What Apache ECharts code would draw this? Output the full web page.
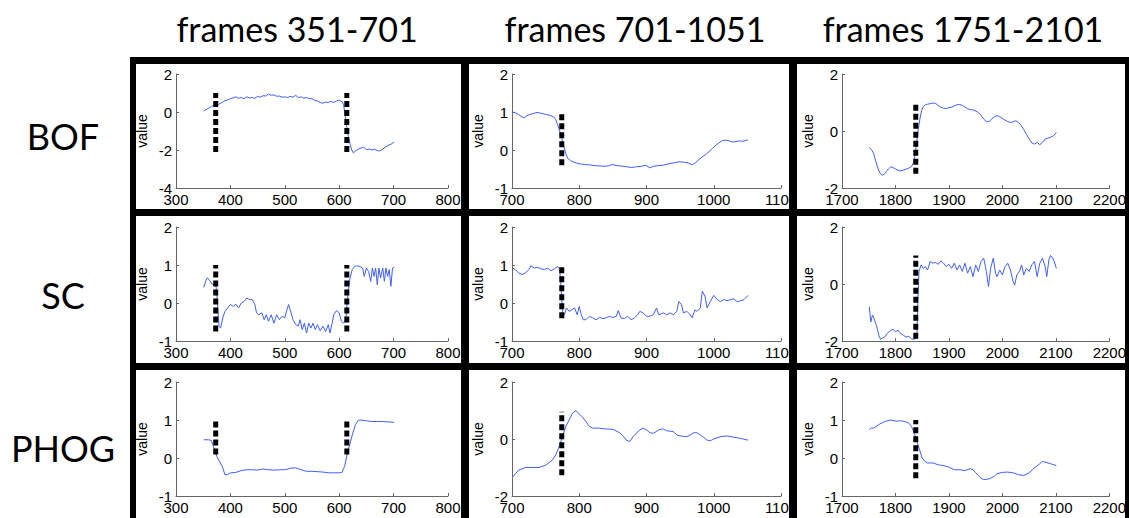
<!DOCTYPE html>
<html>
<head>
<meta charset="utf-8">
<script src="https://cdn.jsdelivr.net/npm/echarts@6/dist/echarts.min.js"></script>
<style>
html, body { margin: 0; padding: 0; background: #fff; }
#chart { width: 1129px; height: 518px; }
</style>
</head>
<body>
<div id="chart"></div>
<script>
// titles / labels
const columnTitles = ['frames 351-701', 'frames 701-1051', 'frames 1751-2101'];
const rowLabels = ['BOF', 'SC', 'PHOG'];

// axis ranges: x per column, y per row/column as [min, max, interval]
const xRanges = [[300, 800], [700, 1100], [1700, 2200]];
const yRanges = [
    [[-4, 2, 2], [-1, 2, 1], [-2, 2, 2]],
    [[-1, 2, 1], [-1, 2, 1], [-2, 2, 2]],
    [[-1, 2, 1], [-2, 2, 2], [-1, 2, 1]]
];

// shot boundaries (dashed lines) per column, with [bottom, top] per row/column
const cutFrames = [[373, 614], [774], [1838]];
const cutSpans = [
    [[-2.1, 1], [-0.4, 1], [-1.5, 1]],
    [[-0.75, 1], [-0.4, 1], [-1.92, 1]],
    [[0.09, 1], [-1.27, 0.96], [-0.53, 1]]
];

// BOF
const bof1 = [[351,0.05],[355,0.12],[360,0.2],[365,0.28],[370,0.36],[375,0.33],[380,0.44],[385,0.5],[390,0.6],[395,0.64],
    [400,0.7],[405,0.74],[410,0.8],[415,0.72],[420,0.76],[425,0.7],[430,0.8],[435,0.74],[440,0.76],[445,0.72],
    [450,0.82],[455,0.78],[460,0.86],[465,0.84],[470,0.95],[475,0.88],[480,0.9],[485,0.83],[490,0.84],[495,0.78],
    [500,0.8],[505,0.76],[510,0.82],[515,0.78],[520,0.88],[525,0.76],[530,0.8],[535,0.72],[540,0.76],[545,0.7],
    [550,0.7],[555,0.62],[560,0.58],[565,0.5],[570,0.46],[575,0.52],[580,0.5],[585,0.56],[590,0.5],[595,0.58],
    [600,0.62],[605,0.55],[608,0.4],[611,-0.2],[614,-0.8],[617,-1.3],[620,-1.7],[623,-2.0],[626,-2.15],[630,-2.05],
    [635,-1.95],[640,-1.9],[645,-1.85],[650,-1.98],[655,-1.95],[660,-2.0],[665,-1.96],[670,-2.03],[675,-2.05],[680,-1.95],
    [685,-1.85],[690,-1.75],[695,-1.7],[701,-1.58]];
const bof2 = [[701,1.0],[705,0.98],[710,0.93],[715,0.87],[718,0.85],[722,0.9],[727,0.94],[732,0.96],[737,0.99],[742,0.97],
    [747,0.95],[752,0.93],[757,0.91],[762,0.87],[765,0.8],[768,0.66],[771,0.5],[774,0.3],[777,0.1],[780,-0.1],
    [783,-0.22],[787,-0.28],[792,-0.32],[797,-0.35],[802,-0.37],[808,-0.38],[815,-0.39],[822,-0.41],[830,-0.42],[838,-0.43],
    [845,-0.41],[849,-0.38],[855,-0.41],[862,-0.42],[870,-0.44],[878,-0.46],[885,-0.44],[892,-0.43],[899,-0.4],[905,-0.47],
    [910,-0.43],[918,-0.41],[925,-0.4],[932,-0.37],[940,-0.34],[948,-0.31],[955,-0.32],[962,-0.34],[968,-0.39],[973,-0.33],
    [978,-0.25],[983,-0.18],[988,-0.12],[993,-0.04],[998,0.04],[1003,0.12],[1008,0.19],[1013,0.25],[1018,0.26],[1023,0.24],
    [1028,0.21],[1033,0.22],[1038,0.24],[1043,0.23],[1048,0.25],[1051,0.27]];
const bof3 = [[1751,-0.58],[1755,-0.65],[1759,-0.78],[1763,-1.05],[1767,-1.3],[1771,-1.48],[1775,-1.55],[1779,-1.52],[1783,-1.42],[1787,-1.33],
    [1791,-1.26],[1795,-1.28],[1800,-1.33],[1805,-1.38],[1810,-1.4],[1815,-1.37],[1820,-1.34],[1825,-1.3],[1830,-1.25],[1834,-1.1],
    [1837,-0.8],[1840,-0.35],[1843,0.1],[1846,0.45],[1849,0.72],[1852,0.86],[1856,0.92],[1860,0.94],[1865,0.96],[1870,0.98],
    [1875,0.97],[1880,0.9],[1885,0.83],[1890,0.8],[1895,0.79],[1900,0.82],[1905,0.84],[1910,0.88],[1915,0.92],[1920,0.93],
    [1925,0.9],[1930,0.84],[1935,0.78],[1940,0.75],[1945,0.74],[1950,0.7],[1955,0.65],[1960,0.55],[1965,0.42],[1970,0.33],
    [1975,0.33],[1980,0.42],[1985,0.5],[1990,0.54],[1995,0.5],[2000,0.44],[2005,0.38],[2010,0.33],[2015,0.3],[2020,0.32],
    [2025,0.36],[2030,0.3],[2035,0.2],[2040,0.05],[2045,-0.12],[2050,-0.28],[2055,-0.42],[2060,-0.46],[2065,-0.4],[2070,-0.48],
    [2075,-0.4],[2080,-0.28],[2085,-0.25],[2090,-0.22],[2095,-0.18],[2101,-0.05]];

// SC
const sc1 = [[351,0.41],[355,0.59],[358,0.66],[362,0.59],[366,0.5],[370,0.48],[373,0.53],[376,0.09],[379,-0.61],[382,-0.66],
    [386,-0.39],[390,-0.22],[395,-0.13],[400,-0.04],[405,-0.09],[410,-0.03],[415,-0.13],[420,0],[425,0.04],[430,0.13],
    [435,0.09],[440,0.09],[445,-0.04],[448,-0.26],[452,-0.31],[458,-0.26],[462,-0.44],[466,-0.31],[470,-0.48],[475,-0.31],
    [480,-0.53],[485,-0.31],[490,-0.44],[495,-0.35],[500,-0.39],[503,-0.22],[507,-0.04],[510,-0.18],[515,-0.44],[520,-0.57],
    [525,-0.61],[528,-0.44],[532,-0.7],[536,-0.53],[540,-0.79],[544,-0.53],[548,-0.66],[552,-0.53],[556,-0.7],[560,-0.57],
    [565,-0.73],[570,-0.61],[575,-0.75],[580,-0.57],[583,-0.79],[587,-0.53],[590,-0.31],[595,-0.2],[600,-0.26],[604,-0.48],
    [608,-0.53],[612,-0.44],[616,0.22],[620,0.66],[624,0.88],[628,0.96],[632,0.98],[638,0.96],[643,0.92],[646,0.7],
    [650,0.92],[654,0.83],[658,0.57],[661,0.92],[664,0.7],[667,0.92],[670,0.48],[673,0.92],[676,0.66],[680,0.92],
    [683,0.57],[686,0.92],[689,0.7],[692,0.88],[695,0.44],[698,0.92],[701,0.94]];
const sc2 = [[701,0.92],[705,0.88],[710,0.79],[715,0.75],[720,0.79],[725,0.88],[728,0.98],[733,0.92],[738,0.94],[743,0.9],
    [748,0.88],[753,0.92],[758,0.85],[763,0.9],[768,0.96],[771,0.88],[773,0.39],[775,-0.22],[778,-0.31],[781,-0.13],
    [785,-0.22],[789,-0.18],[793,-0.13],[797,-0.31],[800,-0.09],[803,-0.31],[806,-0.44],[810,-0.44],[815,-0.35],[820,-0.39],
    [825,-0.44],[830,-0.38],[835,-0.41],[840,-0.39],[845,-0.35],[850,-0.38],[855,-0.35],[858,-0.2],[862,-0.39],[867,-0.41],
    [872,-0.35],[877,-0.44],[882,-0.39],[887,-0.31],[890,-0.22],[895,-0.26],[900,-0.35],[905,-0.35],[910,-0.31],[915,-0.13],
    [918,-0.31],[925,-0.26],[930,-0.31],[935,-0.26],[940,-0.31],[945,-0.22],[948,0.04],[952,-0.04],[955,-0.26],[960,-0.22],
    [965,-0.31],[968,-0.39],[972,-0.18],[975,-0.22],[980,-0.13],[983,0.31],[987,0.18],[990,-0.13],[995,0.04],[1000,0.2],
    [1005,0.09],[1010,0.04],[1015,0.09],[1020,0.06],[1025,0.09],[1030,0.11],[1035,0.03],[1040,0.06],[1045,0.09],[1051,0.2]];
const sc3 = [[1751,-0.8],[1754,-1.33],[1757,-1.09],[1760,-1.21],[1763,-1.39],[1766,-1.56],[1769,-1.8],[1772,-1.94],[1776,-1.89],[1780,-1.86],
    [1784,-1.74],[1788,-1.68],[1792,-1.62],[1796,-1.59],[1800,-1.68],[1805,-1.62],[1810,-1.74],[1815,-1.8],[1820,-1.86],[1825,-1.84],
    [1830,-1.92],[1835,-1.94],[1840,-1.89],[1842,-0.51],[1844,0.44],[1848,0.67],[1852,0.55],[1856,0.61],[1860,0.49],[1865,0.79],
    [1870,0.73],[1875,0.76],[1880,0.69],[1885,0.81],[1890,0.73],[1895,0.61],[1900,0.69],[1905,0.55],[1910,0.73],[1915,0.49],
    [1920,0.67],[1925,0.44],[1930,0.73],[1935,0.38],[1940,0.61],[1945,0.26],[1950,0.67],[1955,0.44],[1960,0.79],[1965,0.91],
    [1970,0.44],[1974,-0.09],[1978,0.55],[1983,0.91],[1987,0.38],[1990,0.26],[1995,0.49],[2000,0.32],[2005,0.61],[2010,0.73],
    [2015,0.49],[2020,0.08],[2023,-0.04],[2027,0.32],[2032,0.44],[2036,0.67],[2040,0.32],[2045,0.55],[2050,0.44],[2055,0.67],
    [2060,0.79],[2065,0.26],[2070,0.73],[2075,0.91],[2080,0.61],[2083,0.26],[2087,0.85],[2090,1.0],[2094,0.91],[2097,0.79],
    [2101,0.55]];

// PHOG
const phog1 = [[351,0.48],[360,0.48],[365,0.46],[370,0.26],[375,0.04],[380,-0.09],[385,-0.22],[390,-0.44],[395,-0.44],[400,-0.39],
    [410,-0.38],[420,-0.33],[430,-0.31],[440,-0.31],[450,-0.32],[460,-0.29],[470,-0.31],[480,-0.32],[490,-0.31],[500,-0.31],
    [510,-0.27],[520,-0.26],[530,-0.31],[540,-0.35],[550,-0.35],[560,-0.36],[570,-0.37],[580,-0.39],[590,-0.39],[600,-0.39],
    [605,-0.38],[610,-0.22],[615,0.13],[620,0.39],[625,0.66],[630,0.88],[635,0.99],[640,1.0],[650,0.98],[660,0.96],
    [670,0.96],[680,0.96],[690,0.95],[701,0.94]];
const phog2 = [[701,-1.33],[710,-1.09],[720,-1.0],[730,-1.0],[740,-1.0],[750,-0.92],[760,-0.74],[765,-0.56],[770,-0.27],[775,0.08],
    [780,0.44],[785,0.67],[790,0.91],[795,1.0],[800,0.88],[805,0.76],[810,0.61],[815,0.44],[820,0.38],[830,0.38],
    [840,0.35],[850,0.34],[860,0.22],[865,0.11],[870,-0.04],[875,-0.09],[880,0.08],[890,0.32],[895,0.38],[900,0.32],
    [905,0.22],[910,0.2],[920,0.34],[925,0.35],[930,0.29],[940,0.26],[945,0.14],[950,0.11],[960,0.08],[965,0.14],
    [970,0.22],[975,0.22],[980,0.14],[985,0.06],[990,-0.04],[995,-0.06],[1000,0],[1010,0.08],[1020,0.11],[1030,0.06],
    [1040,0.02],[1051,-0.04]];
const phog3 = [[1751,0.75],[1755,0.79],[1760,0.79],[1770,0.89],[1780,0.96],[1790,1.0],[1800,0.97],[1810,0.98],[1820,0.95],[1825,0.92],
    [1830,0.83],[1835,0.66],[1840,0.44],[1845,0.22],[1850,0.0],[1855,-0.09],[1860,-0.13],[1870,-0.13],[1880,-0.18],[1890,-0.2],
    [1900,-0.24],[1910,-0.31],[1920,-0.31],[1930,-0.33],[1940,-0.28],[1945,-0.31],[1950,-0.39],[1960,-0.53],[1965,-0.57],[1975,-0.55],
    [1985,-0.48],[1990,-0.41],[2000,-0.38],[2010,-0.37],[2020,-0.39],[2030,-0.44],[2040,-0.46],[2050,-0.39],[2060,-0.26],[2070,-0.15],
    [2075,-0.09],[2080,-0.11],[2090,-0.15],[2101,-0.2]];

const curves = [[bof1, bof2, bof3], [sc1, sc2, sc3], [phog1, phog2, phog3]];

// layout
const colLeft = [176, 512, 842];
const colWidth = [272, 269, 268];
const rowTop = [74, 227, 382];
const plotHeight = 114;
const titleX = [297, 635, 963];
const rowLabelY = [136, 295, 448];

const axisColor = '#666';
const lineColor = '#3f5fff';

function plain(v) { return String(v); }

const grids = [], xAxes = [], yAxes = [], series = [];
for (let r = 0; r < 3; r++) {
    for (let c = 0; c < 3; c++) {
        const idx = grids.length;
        grids.push({ left: colLeft[c], top: rowTop[r], width: colWidth[c], height: plotHeight });
        xAxes.push({
            type: 'value', gridIndex: idx,
            min: xRanges[c][0], max: xRanges[c][1], interval: 100,
            axisLine: { onZero: false, lineStyle: { color: axisColor, width: 1 } },
            axisTick: { inside: true, length: 3, lineStyle: { color: axisColor } },
            axisLabel: { color: '#000', fontSize: 15, margin: 4, fontFamily: 'Liberation Sans',
                showMinLabel: true, showMaxLabel: true, hideOverlap: false, formatter: plain },
            splitLine: { show: false }
        });
        const yr = yRanges[r][c];
        yAxes.push({
            type: 'value', gridIndex: idx,
            min: yr[0], max: yr[1], interval: yr[2],
            name: 'value', nameLocation: 'middle', nameGap: 27, nameRotate: 90,
            nameTextStyle: { color: '#000', fontSize: 14, fontFamily: 'Liberation Sans' },
            axisLine: { show: true, onZero: false, lineStyle: { color: axisColor, width: 1 } },
            axisTick: { show: true, inside: true, length: 3, lineStyle: { color: axisColor } },
            axisLabel: { color: '#000', fontSize: 15, margin: 4, fontFamily: 'Liberation Sans', formatter: plain },
            splitLine: { show: false }
        });
        series.push({
            type: 'line', xAxisIndex: idx, yAxisIndex: idx,
            data: curves[r][c], symbol: 'none', silent: true,
            lineStyle: { color: lineColor, width: 1 }, z: 2
        });
        cutFrames[c].forEach(function (f) {
            series.push({
                type: 'line', xAxisIndex: idx, yAxisIndex: idx,
                data: [[f, cutSpans[r][c][0]], [f, cutSpans[r][c][1]]],
                symbol: 'none', silent: true,
                lineStyle: { color: '#000', width: 5, type: [6, 3], cap: 'butt' }, z: 5
            });
        });
    }
}

// black frame bars drawn over everything
const bars = [
    [130, 57, 999, 7], [130, 57, 6, 461], [461, 57, 8, 461], [789, 57, 8, 461], [1125, 57, 4, 461],
    [130, 209, 999, 7], [130, 363, 999, 7]
];
const graphics = bars.map(function (b) {
    return { type: 'rect', shape: { x: b[0], y: b[1], width: b[2], height: b[3] }, style: { fill: '#000' }, z: 100, silent: true };
});
columnTitles.forEach(function (t, i) {
    graphics.push({ type: 'text', x: titleX[i], y: 28, z: 100,
        style: { text: t, fill: '#000', fontSize: 34, fontFamily: 'Lato', align: 'center', verticalAlign: 'middle' } });
});
rowLabels.forEach(function (t, i) {
    graphics.push({ type: 'text', x: 63, y: rowLabelY[i], z: 100,
        style: { text: t, fill: '#000', fontSize: 36, fontFamily: 'Lato', align: 'center', verticalAlign: 'middle' } });
});

const myChart = echarts.init(document.getElementById('chart'), null, { renderer: 'svg' });
myChart.setOption({
    animation: false,
    backgroundColor: '#fff',
    grid: grids,
    xAxis: xAxes,
    yAxis: yAxes,
    series: series,
    graphic: { elements: graphics }
});
</script>
</body>
</html>
